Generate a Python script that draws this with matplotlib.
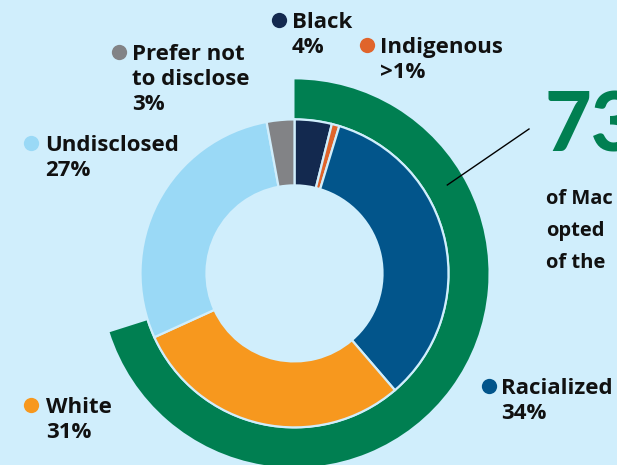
import matplotlib
matplotlib.use("Agg")
import matplotlib.pyplot as plt

# ---- data ----
categories = ["Black", "Indigenous", "Racialized", "White", "Undisclosed", "Prefer not\nto disclose"]
shares = [3.9, 0.8, 34.0, 29.5, 28.9, 2.9]          # arc sizes as drawn
share_labels = ["4%", ">1%", "34%", "31%", "27%", "3%"]
colors = ["#13294f", "#e0642b", "#02558b", "#f7981e", "#9ad9f6", "#828386"]

opted_arc = [70.1, 29.9]                              # outer green arc as drawn
opted_label = "73%"
opted_lines = ["of Mac", "opted", "of the"]

BG = "#d0eefc"
GREEN = "#007f51"
TXT = "#111111"

W, H = 617, 465
fig = plt.figure(figsize=(W / 100, H / 100), dpi=100, facecolor=BG)
ax = fig.add_axes([0, 0, 1, 1])
ax.set_facecolor(BG)

cx, cy = 294.5, H - 273.4

# outer green ring
ax.pie(opted_arc, colors=[GREEN, "none"], radius=194, center=(cx, cy),
       startangle=90, counterclock=False,
       wedgeprops=dict(width=39, linewidth=0))

# inner ring
ax.pie(shares, colors=colors, radius=154, center=(cx, cy),
       startangle=90, counterclock=False,
       wedgeprops=dict(width=66, edgecolor=BG, linewidth=1.6))

ax.set_xlim(0, W)
ax.set_ylim(0, H)
ax.set_aspect("equal")
ax.axis("off")

font = ["Open Sans", "DejaVu Sans"]
fs = 16

# label positions (dot center x, first line center y from top, text x)
label_pos = {
    "Black": (279, 20, 292),
    "Indigenous": (367, 45, 380),
    "Racialized": (489, 386, 501),
    "White": (31, 405, 46),
    "Undisclosed": (31, 143, 45),
    "Prefer not\nto disclose": (119, 52, 132),
}
line_h = 25
for cat, pct, col in zip(categories, share_labels, colors):
    dx, dy, tx = label_pos[cat]
    ax.plot([dx], [H - dy], marker="o", markersize=11, color=col,
            markeredgewidth=0, clip_on=False)
    lines = cat.split("\n") + [pct]
    for i, ln in enumerate(lines):
        ax.text(tx, H - (dy + i * line_h), ln, fontsize=fs, fontweight="bold",
                family=font, color=TXT, ha="left", va="center_baseline")

# leader line
ax.plot([447.3, 529], [H - 185, H - 129], color="black", linewidth=1.0)

# big number and caption
ax.text(545, H - 152, opted_label, fontsize=58, fontweight="black",
        family=["Lato", "DejaVu Sans"], color=GREEN, ha="left", va="baseline")
for i, ln in enumerate(opted_lines):
    ax.text(546, H - (197 + i * 32), ln, fontsize=14.5, fontweight="bold",
            family=font, color=TXT, ha="left", va="center_baseline")

fig.savefig("out.png", dpi=100, facecolor=BG)
